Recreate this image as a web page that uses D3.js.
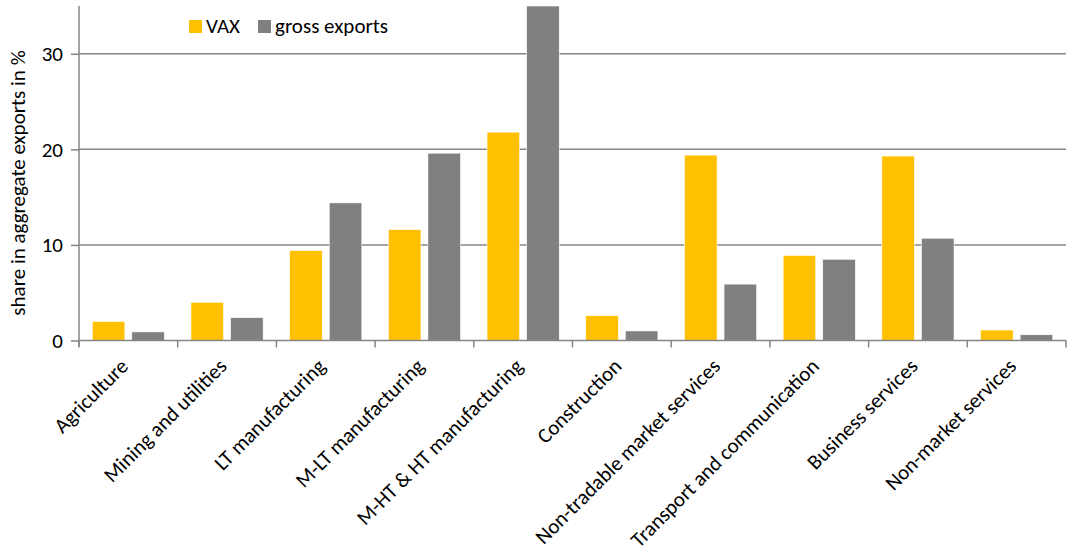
<!DOCTYPE html>
<html>
<head>
<meta charset="utf-8">
<script src="https://cdn.jsdelivr.net/npm/d3@7"></script>
<style>
  body { margin: 0; background: #fff; }
  text { font-family: Carlito, Calibri, Lato, sans-serif; fill: #000; }
</style>
</head>
<body>
<svg id="chart" width="1068" height="552"></svg>
<script>
const categories = ["Agriculture", "Mining and utilities", "LT manufacturing", "M-LT manufacturing",
  "M-HT & HT manufacturing", "Construction", "Non-tradable market services",
  "Transport and communication", "Business services", "Non-market services"];
const seriesNames = ["VAX", "gross exports"];
const vaxValues = [2.0, 4.0, 9.4, 11.6, 21.8, 2.6, 19.4, 8.9, 19.3, 1.1];
const grossValues = [0.9, 2.4, 14.4, 19.6, 35.0, 1.0, 5.9, 8.5, 10.7, 0.6];
const yTicks = [0, 10, 20, 30];
const yMax = 35;
const yTitle = "share in aggregate exports in %";
const colors = ["#FFC000", "#808080"];

const svg = d3.select("#chart");
const plotLeft = 79, plotRight = 1066, plotTop = 6, plotBottom = 340.5;

const x0 = d3.scaleBand().domain(categories).range([plotLeft, plotRight]).padding(0);
const x1 = d3.scaleBand().domain(seriesNames).range([0, x0.bandwidth()])
  .paddingInner(0.176).paddingOuter(0.335);
const y = d3.scaleLinear().domain([0, yMax]).range([plotBottom, plotTop]);

const gridColor = "#868686";

// gridlines
svg.append("g").selectAll("line").data(yTicks.filter(d => d > 0)).join("line")
  .attr("x1", plotLeft).attr("x2", plotRight)
  .attr("y1", d => y(d)).attr("y2", d => y(d))
  .attr("stroke", gridColor).attr("stroke-width", 1.5);

// bars
const data = categories.map((c, i) => ({ cat: c, vals: [vaxValues[i], grossValues[i]] }));
const groups = svg.append("g").selectAll("g").data(data).join("g")
  .attr("transform", d => `translate(${x0(d.cat)},0)`);
groups.selectAll("rect").data(d => d.vals.map((v, j) => ({ s: seriesNames[j], v, j }))).join("rect")
  .attr("x", d => x1(d.s))
  .attr("width", x1.bandwidth())
  .attr("y", d => y(Math.min(d.v, yMax)))
  .attr("height", d => plotBottom - y(Math.min(d.v, yMax)))
  .attr("fill", d => colors[d.j])
  .attr("stroke", "#fff").attr("stroke-width", 0.6);

// y axis
const yAxis = d3.axisLeft(y).tickValues(yTicks).tickSize(8).tickPadding(8).tickFormat(d3.format("d"));
const yg = svg.append("g").attr("transform", `translate(${plotLeft},0)`).call(yAxis);
yg.select(".domain").remove();
yg.selectAll(".tick line").attr("stroke", gridColor).attr("stroke-width", 1.5);
yg.selectAll(".tick text").style("font-size", "21px").attr("fill", "#000");
svg.append("line").attr("x1", plotLeft).attr("x2", plotLeft).attr("y1", plotTop).attr("y2", plotBottom + 6)
  .attr("stroke", gridColor).attr("stroke-width", 1.5);

// x axis
svg.append("line").attr("x1", plotLeft).attr("x2", plotRight).attr("y1", plotBottom).attr("y2", plotBottom)
  .attr("stroke", gridColor).attr("stroke-width", 1.5);
const boundaries = categories.map(c => x0(c)).concat([plotRight]);
svg.append("g").selectAll("line").data(boundaries).join("line")
  .attr("x1", d => d).attr("x2", d => d).attr("y1", plotBottom).attr("y2", plotBottom + 7)
  .attr("stroke", gridColor).attr("stroke-width", 1.5);

svg.append("g").selectAll("text").data(categories).join("text")
  .attr("transform", d => `translate(${x0(d) + x0.bandwidth() / 2 + 1},${plotBottom + 27}) rotate(-45)`)
  .attr("text-anchor", "end")
  .style("font-size", "21px")
  .text(d => d);

// y title
svg.append("text")
  .attr("transform", `translate(25,${183}) rotate(-90)`)
  .attr("text-anchor", "middle")
  .style("font-size", "21px")
  .text(yTitle);

// legend
const legendX = [189, 258];
const leg = svg.append("g").selectAll("g").data(seriesNames).join("g")
  .attr("transform", (d, i) => `translate(${legendX[i]},20)`);
leg.append("rect").attr("width", 13).attr("height", 13).attr("fill", (d, i) => colors[i]);
leg.append("text").attr("x", 17).attr("y", 13).style("font-size", "21px").text(d => d);
</script>
</body>
</html>
